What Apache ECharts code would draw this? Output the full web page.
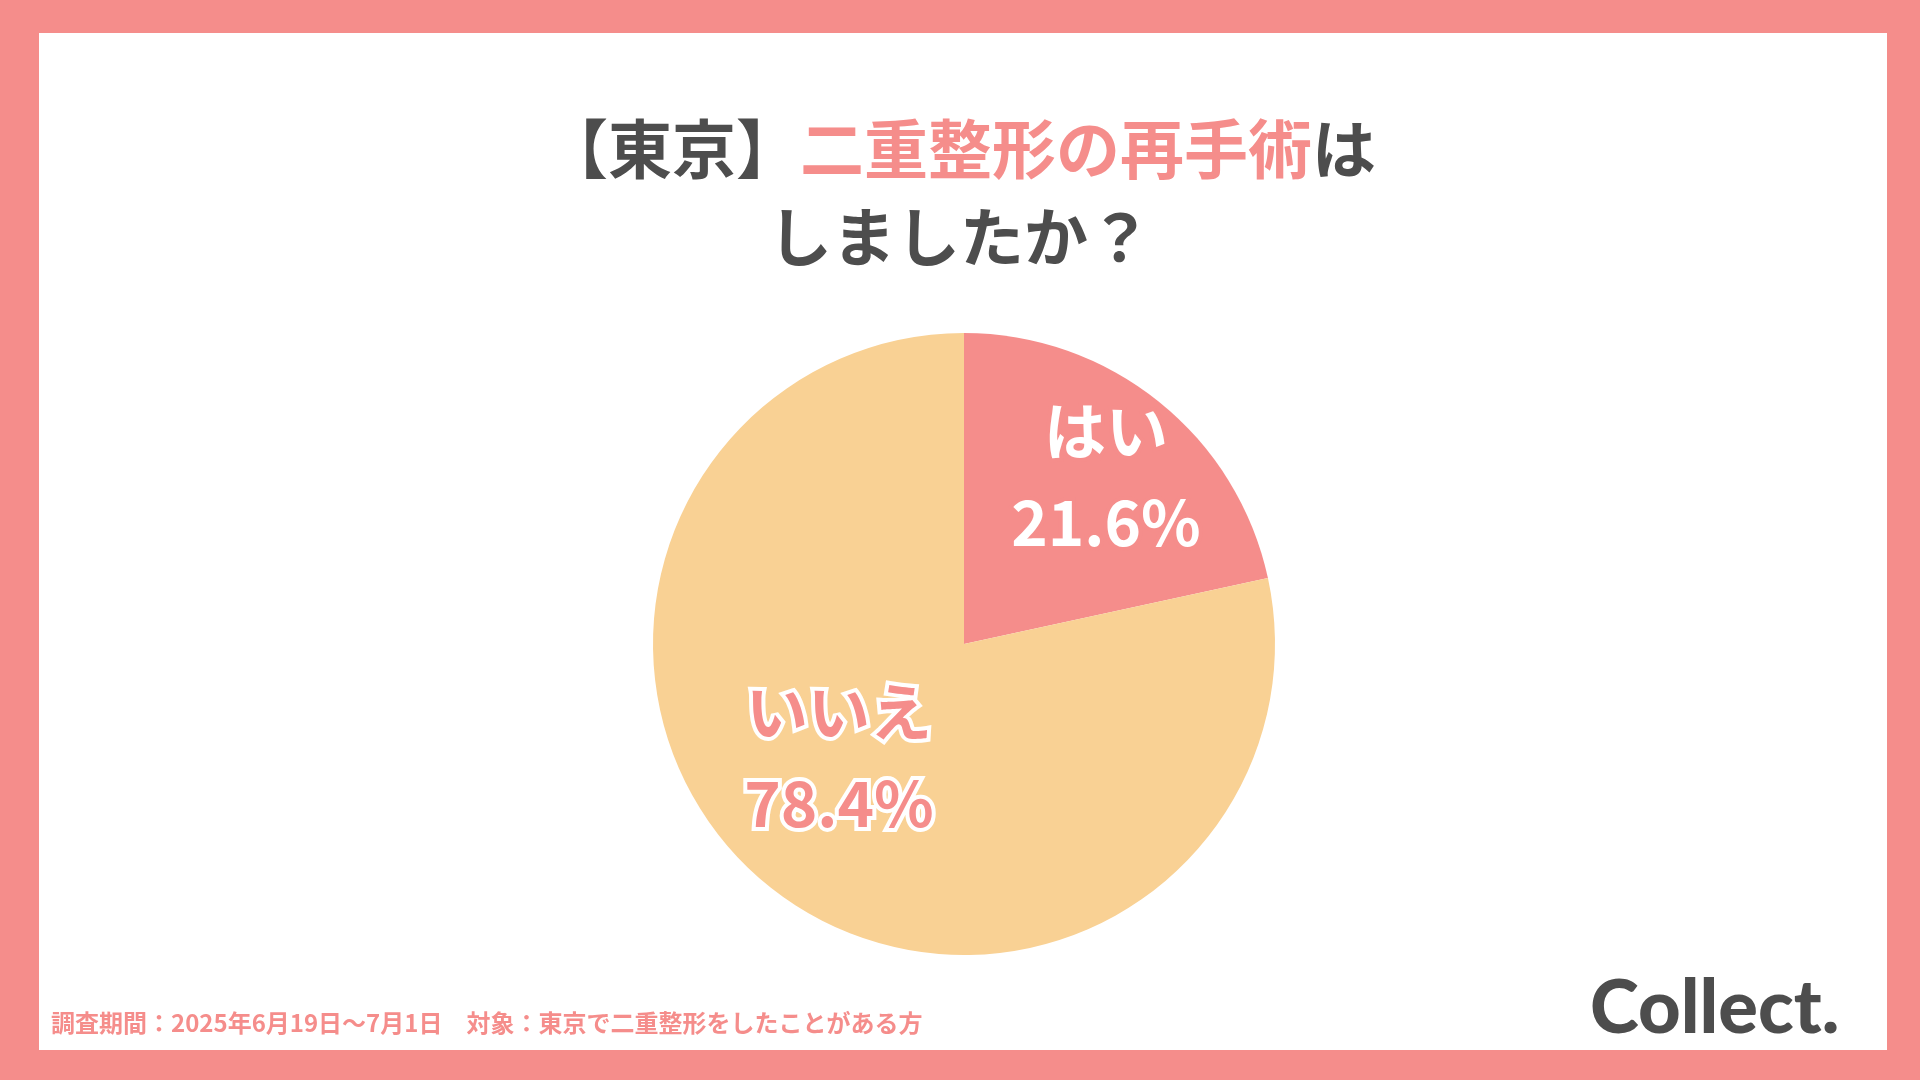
<!DOCTYPE html>
<html><head><meta charset="utf-8">
<script src="https://cdn.jsdelivr.net/npm/echarts@6/dist/echarts.min.js"></script>
<style>html,body{margin:0;padding:0;background:#f58d8b}#c{width:1920px;height:1080px}</style>
</head><body><div id="c"></div>
<script>
const categories = ['はい', 'いいえ'];
const values = [21.6, 78.4];
const colors = ['#f58d8b', '#f9d194'];
const footnote = '調査期間：2025年6月19日〜7月1日　対象：東京で二重整形をしたことがある方';
const F = '"Noto Sans CJK JP"';
const chart = echarts.init(document.getElementById('c'));
chart.setOption({
  backgroundColor: '#f58d8b',
  animation: false,
  title: {
    left: 'center', top: 100,
    text: '{d|【東京】}{p|二重整形の再手術}{d|は}\n{d|しましたか？}',
    textStyle: {
      rich: {
        d: {fontFamily: F, fontWeight: 'bold', fontSize: 64, color: '#4d4d4d', lineHeight: 88},
        p: {fontFamily: F, fontWeight: 'bold', fontSize: 64, color: '#f58d8b', lineHeight: 88}
      }
    }
  },
  graphic: [
    {type: 'rect', z: -10, shape: {x: 39, y: 33, width: 1848, height: 1017}, style: {fill: '#fff'}},
    {type: 'text', left: 51, top: 1011, style: {text: footnote, font: 'bold 24px ' + F, fill: '#f58d8b'}},
    {type: 'text', left: 1590, top: 972, style: {text: 'Collect.', font: '900 74px Lato', fill: '#4d4d4d'}},
    {type: 'text', z: 10, x: 1106, y: 431, style: {text: categories[0], font: 'bold 62px ' + F, fill: '#fff', stroke: '#f58d8b', lineWidth: 8, align: 'center', verticalAlign: 'middle'}},
    {type: 'text', z: 10, x: 1106, y: 522, style: {text: values[0].toFixed(1) + '%', font: 'bold 62px ' + F, fill: '#fff', stroke: '#f58d8b', lineWidth: 8, align: 'center', verticalAlign: 'middle'}},
    {type: 'text', z: 10, x: 839, y: 712, style: {text: categories[1], font: 'bold 62px ' + F, fill: '#f58d8b', stroke: '#fff', lineWidth: 8, align: 'center', verticalAlign: 'middle'}},
    {type: 'text', z: 10, x: 839, y: 803, style: {text: values[1].toFixed(1) + '%', font: 'bold 62px ' + F, fill: '#f58d8b', stroke: '#fff', lineWidth: 8, align: 'center', verticalAlign: 'middle'}}
  ],
  series: [{
    type: 'pie', center: [964, 644], radius: 311, startAngle: 90, clockwise: true,
    label: {show: false}, labelLine: {show: false},
    itemStyle: {borderWidth: 0},
    emphasis: {disabled: true},
    data: categories.map((n, i) => ({name: n, value: values[i], itemStyle: {color: colors[i]}}))
  }]
});
</script></body></html>
